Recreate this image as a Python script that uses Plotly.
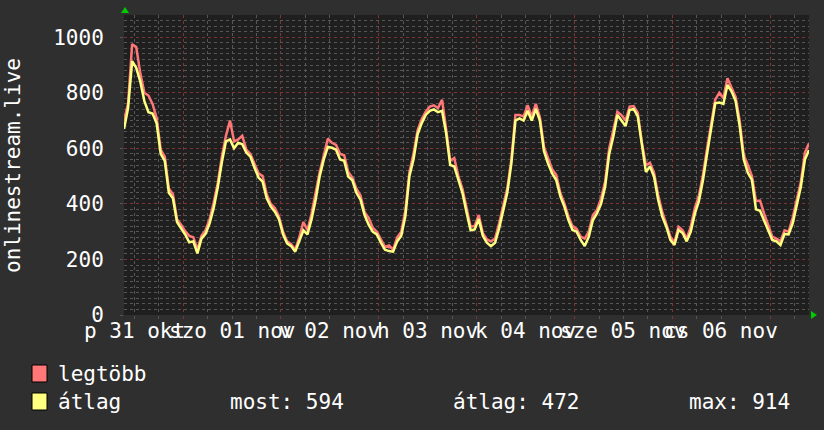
import pandas as pd
import plotly.graph_objects as go

# ---- data (hourly samples) ----
start_time = "2025-10-31 09:30"
avg_values = [
    670, 745, 914, 890, 840, 770, 730, 725, 690, 580, 555, 440, 420, 335, 312, 290, 262, 265, 222, 275,
    292, 330, 385, 460, 550, 625, 632, 600, 620, 615, 585, 570, 530, 495, 480, 420, 390, 372, 345, 290,
    258, 248, 228, 265, 305, 290, 345, 415, 500, 560, 605, 602, 595, 560, 555, 498, 485, 440, 415, 360,
    325, 300, 290, 260, 235, 230, 228, 265, 285, 355, 500, 560, 650, 690, 720, 735, 740, 730, 735, 655,
    540, 535, 490, 440, 370, 305, 308, 345, 285, 260, 248, 260, 312, 372, 440, 545, 700, 708, 700, 735,
    700, 742, 700, 590, 545, 510, 486, 428, 390, 342, 306, 300, 270, 248, 282, 342, 366, 400, 462, 580,
    642, 720, 702, 680, 738, 742, 715, 605, 515, 535, 498, 415, 355, 318, 270, 252, 306, 295, 265, 300,
    365, 410, 486, 580, 665, 762, 765, 760, 828, 805, 770, 680, 560, 512, 486, 380, 375, 342, 306, 270,
    265, 252, 292, 290, 330, 400, 462, 560, 594,
]
max_values = [
    700, 762, 975, 965, 870, 800, 790, 760, 710, 595, 570, 455, 435, 345, 325, 302, 285, 280, 235, 285,
    305, 345, 405, 475, 570, 645, 700, 625, 632, 645, 595, 580, 545, 510, 500, 435, 400, 385, 355, 300,
    265, 255, 235, 280, 335, 305, 365, 440, 515, 575, 635, 620, 612, 580, 575, 515, 495, 455, 430, 370,
    350, 315, 300, 272, 245, 250, 235, 280, 300, 375, 515, 580, 665, 705, 732, 750, 755, 745, 775, 670,
    555, 565, 500, 455, 380, 318, 320, 360, 295, 272, 265, 275, 330, 390, 456, 560, 720, 720, 715, 755,
    715, 760, 712, 605, 565, 525, 505, 440, 402, 355, 320, 310, 282, 275, 300, 360, 378, 420, 480, 600,
    665, 732, 720, 700, 750, 752, 728, 622, 540, 548, 512, 432, 372, 330, 282, 262, 318, 305, 275, 318,
    385, 430, 505, 600, 680, 775, 800, 780, 852, 818, 785, 700, 575, 540, 500, 410, 412, 365, 320, 282,
    275, 265, 305, 300, 350, 420, 480, 585, 618,
]
day_labels = ["p 31 okt", "szo 01 nov", "v 02 nov", "h 03 nov", "k 04 nov", "sze 05 nov", "cs 06 nov"]
day_label_dates = ["2025-10-31 12:00", "2025-11-01 12:00", "2025-11-02 12:00", "2025-11-03 12:00",
                   "2025-11-04 12:00", "2025-11-05 12:00", "2025-11-06 12:00"]
y_title = "onlinestream.live"
series_names = ["legtöbb", "átlag"]
stat_labels = ["most: 594", "átlag: 472", "max: 914"]

times = pd.date_range(start_time, periods=len(avg_values), freq="h")

# ---- styling ----
W, H = 824, 430
L, R, T, B = 124, 15, 15, 115
PW, PH = W - L - R, H - T - B
BG = "#2f2f2f"
CANVAS = "#1f1f1f"
RED = "#ff7777"
YEL = "#ffff80"
MINOR = "#565656"
MAJOR = "#7c3434"
FONT = "DejaVu Sans Mono"
FS = 21


def px(sx):
    return (sx - L) / PW


def py(sy):
    return (H - B - sy) / PH


fig = go.Figure()
fig.add_trace(go.Scatter(x=times, y=max_values, mode="lines", name=series_names[0],
                         line=dict(color=RED, width=2.5), showlegend=False))
fig.add_trace(go.Scatter(x=times, y=avg_values, mode="lines", name=series_names[1],
                         line=dict(color=YEL, width=2.5), showlegend=False))

x_range = [times[0], times[-1]]

fig.update_layout(
    width=W, height=H,
    paper_bgcolor=BG, plot_bgcolor=CANVAS,
    margin=dict(l=L, r=R, t=T, b=B, autoexpand=False),
    showlegend=False,
    font=dict(family=FONT, color="#ffffff", size=FS),
    xaxis=dict(
        type="date", range=x_range, showticklabels=False, automargin=False,
        showgrid=True, gridcolor=MAJOR, griddash="dot", gridwidth=1,
        tick0="2025-11-01", dtick=86400000,
        ticks="outside", ticklen=3, tickcolor=MAJOR,
        minor=dict(dtick=6 * 3600000, showgrid=True, gridcolor=MINOR, griddash="dot",
                   ticks="outside", ticklen=3, tickcolor=MINOR),
        zeroline=False, showline=False,
    ),
    yaxis=dict(
        range=[0, 1080], tick0=0, dtick=200, automargin=False,
        showgrid=True, gridcolor=MAJOR, griddash="dot", gridwidth=1,
        minor=dict(dtick=20, showgrid=True, gridcolor=MINOR, griddash="dot"),
        ticks="outside", ticklen=3, tickcolor=MINOR,
        tickfont=dict(family=FONT, size=FS, color="#ffffff"),
        ticklabelstandoff=12, zeroline=False, showline=False,
    ),
)

shapes = []
# green axis arrows
shapes.append(dict(type="path", xref="paper", yref="paper",
                   path=f"M {px(121)} {py(13)} L {px(129)} {py(13)} L {px(125)} {py(7)} Z",
                   fillcolor="#00cc00", line=dict(width=0)))
shapes.append(dict(type="path", xref="paper", yref="paper",
                   path=f"M {px(811)} {py(311)} L {px(811)} {py(319)} L {px(817)} {py(315)} Z",
                   fillcolor="#00cc00", line=dict(width=0)))
# legend boxes
for (y0, y1), col in zip([(365, 382), (393, 410)], [RED, YEL]):
    shapes.append(dict(type="rect", xref="paper", yref="paper",
                       x0=px(32), x1=px(47), y0=py(y1), y1=py(y0),
                       fillcolor=col, line=dict(color="#000000", width=1)))
fig.update_layout(shapes=shapes)

ann = []
ann.append(dict(text=y_title, xref="paper", yref="paper", x=px(13), y=py(165),
                textangle=-90, showarrow=False, xanchor="center", yanchor="middle",
                font=dict(family=FONT, size=FS, color="#ffffff")))
# day labels (centred at noon of each day)
for d, t in zip(day_label_dates, day_labels):
    ann.append(dict(text=t, xref="x", yref="paper", x=d, y=py(331),
                    showarrow=False, xanchor="center", yanchor="middle",
                    font=dict(family=FONT, size=FS, color="#ffffff")))
ann.append(dict(text=series_names[0], xref="paper", yref="paper", x=px(56), y=py(374),
                showarrow=False, xanchor="left", yanchor="middle",
                font=dict(family=FONT, size=FS, color="#ffffff")))
ann.append(dict(text=series_names[1], xref="paper", yref="paper", x=px(56), y=py(402),
                showarrow=False, xanchor="left", yanchor="middle",
                font=dict(family=FONT, size=FS, color="#ffffff")))
for sx, t in zip([228, 451, 687], stat_labels):
    ann.append(dict(text=t, xref="paper", yref="paper", x=px(sx), y=py(402),
                    showarrow=False, xanchor="left", yanchor="middle",
                    font=dict(family=FONT, size=FS, color="#ffffff")))
fig.update_layout(annotations=ann)

fig.write_html(
    "out.html",
    config={"displayModeBar": False},
    post_script="document.body.style.margin='0';document.body.style.background='" + BG + "';",
)
